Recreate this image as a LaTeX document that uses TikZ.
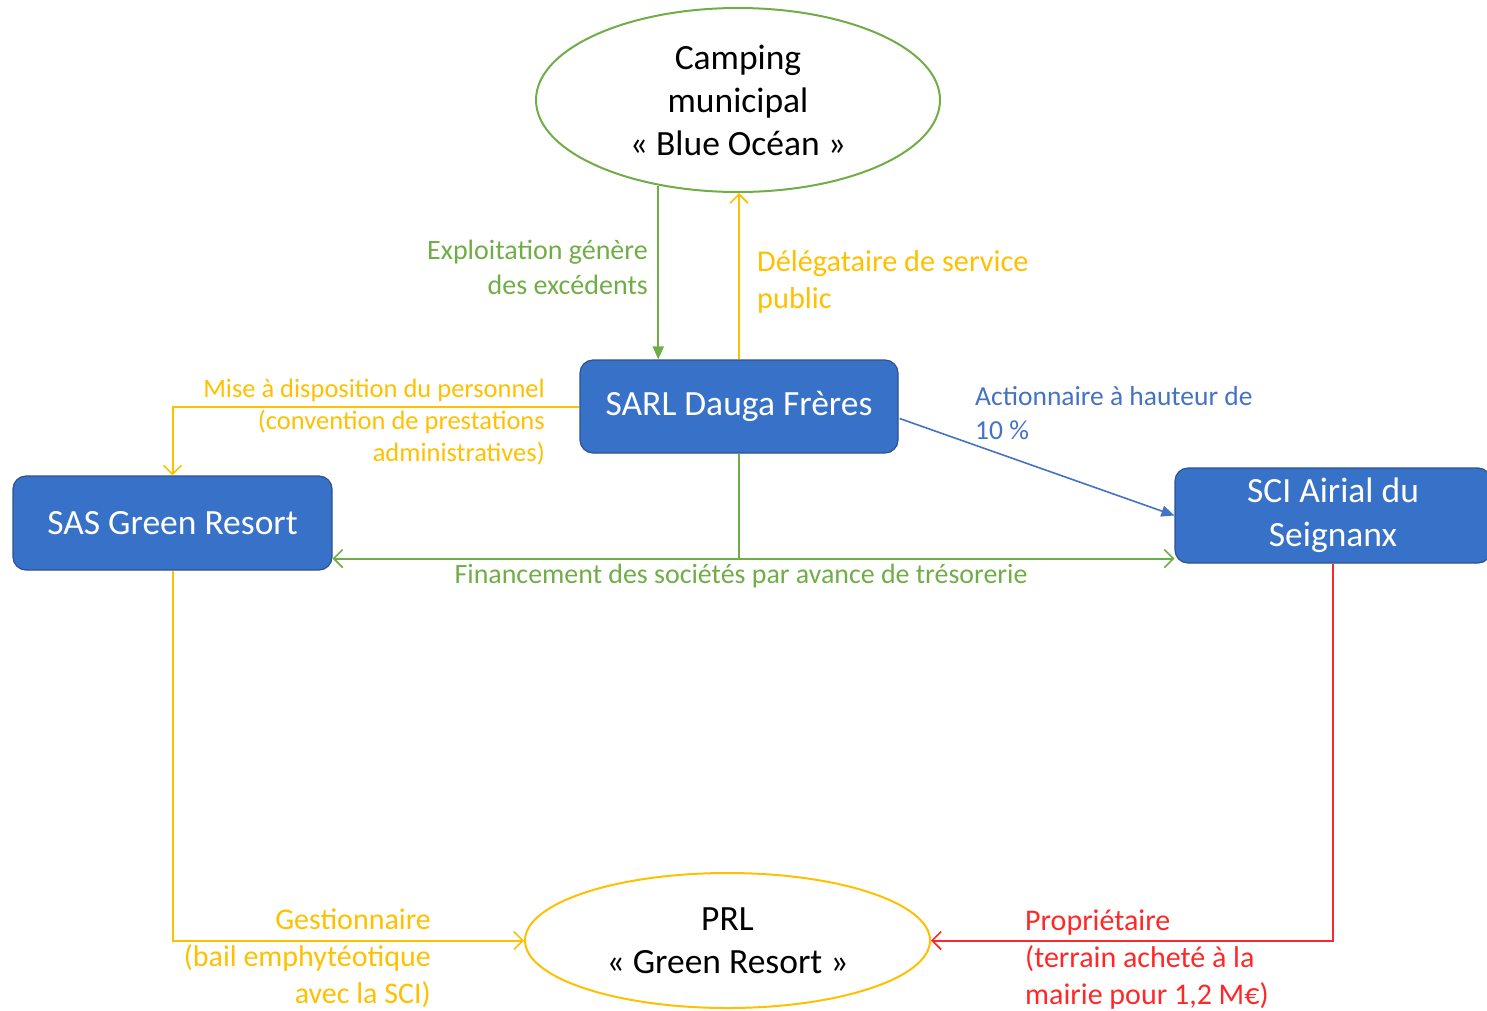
\documentclass[tikz,border=0pt]{standalone}
\usepackage{fontspec}
\setmainfont{Carlito}
\usetikzlibrary{arrows.meta,shapes.geometric,calc}
\definecolor{cgreen}{RGB}{112,173,71}
\definecolor{cgold}{RGB}{255,192,0}
\definecolor{cblue}{RGB}{68,114,196}
\definecolor{cbox}{RGB}{56,113,200}
\definecolor{cboxd}{RGB}{47,82,143}
\definecolor{cred}{RGB}{255,40,40}
\begin{document}
\begin{tikzpicture}[x=1pt,y=-1pt,
  box/.style={draw=cboxd, line width=1.2pt, fill=cbox, rounded corners=13pt, text=white,
    font=\fontsize{35.5}{44}\selectfont, align=center, inner sep=0pt},
  oval/.style={ellipse, line width=2pt, inner sep=0pt, align=center, text=black,
    font=\fontsize{35.5}{43}\selectfont},
  conn/.style={line width=2pt},
  open/.style={-{Straight Barb[length=9pt,width=18pt,line width=1.6pt]}},
  both/.style={{Straight Barb[length=9pt,width=18pt,line width=1.6pt]}-{Straight Barb[length=9pt,width=18pt,line width=1.6pt]}},
  filled/.style={-{Triangle[length=13pt,width=11pt]}},
  lbl/.style={inner sep=0pt, font=\fontsize{28}{35}\selectfont},
  lblbig/.style={inner sep=0pt, font=\fontsize{30}{37}\selectfont},
]
\useasboundingbox (0,0) rectangle (1487,1010);

\node[oval, draw=cgreen, minimum width=404pt, minimum height=184pt] (camp) at (738,100)
  {Camping\\municipal\\« Blue Océan »};
\node[box, minimum width=318pt, minimum height=93pt] (sarl) at (739,406.5) {SARL Dauga Frères};
\node[box, minimum width=319pt, minimum height=94pt] (sas) at (172.5,523) {SAS Green Resort};
\node[box, minimum width=316pt, minimum height=95pt] (sci) at (1333,515.5) {SCI Airial du\\Seignanx};
\node[oval, draw=cgold, minimum width=405pt, minimum height=135pt] (prl) at (727.5,940.5)
  {PRL\\« Green Resort »};

% camping -> SARL (green)
\draw[conn, cgreen, filled] (camp.-133.43) -- (camp.-133.43 |- sarl.north);
% SARL -> camping (gold)
\draw[conn, cgold, open] (sarl.north) -- (sarl.north |- camp.south);
% SARL -> SAS (gold)
\draw[conn, cgold, open] (sarl.west) -| (sas.north);
% SARL -> SCI (blue)
\draw[conn, cblue, filled, line width=1.6pt] ($(sarl.east)+(1,12)$) -- (sci.west);
% financing
\coordinate (fj) at ($(sarl.south)+(0,105)$);
\draw[conn, cgreen] (sarl.south) -- (fj);
\draw[conn, cgreen, both] (fj -| sas.east) -- (fj -| sci.west);
% SAS -> PRL
\draw[conn, cgold, open] (sas.south) |- (prl.west);
% SCI -> PRL
\draw[conn, cred, open] (sci.south) |- (prl.east);

% labels
\node[lbl, text=cgreen, anchor=east, align=right] (l1) at (648,267.5)
  {Exploitation génère\\des excédents};
\node[lblbig, text=cgold, anchor=west, align=left, font=\fontsize{30.3}{37}\selectfont] (l2) at (757,281.5)
  {Délégataire de service\\public};
\node[lbl, text=cgold, anchor=east, align=right, font=\fontsize{26.5}{32}\selectfont] (l3) at (545,422)
  {Mise à disposition du personnel\\(convention de prestations\\administratives)};
\node[lbl, text=cblue, anchor=west, align=left, font=\fontsize{27.5}{34}\selectfont] (l4) at (975,413)
  {Actionnaire à hauteur de\\10 \%};
\node[lbl, text=cgreen, font=\fontsize{27.9}{34}\selectfont] (l5) at (741,576)
  {Financement des sociétés par avance de trésorerie};
\node[lblbig, text=cgold, anchor=east, align=right] (l6) at (431,958.5)
  {Gestionnaire\\(bail emphytéotique\\avec la SCI)};
\node[lblbig, text=cred, anchor=west, align=left] (l7) at (1025,960)
  {Propriétaire\\(terrain acheté à la\\mairie pour 1,2 M€)};
\end{tikzpicture}
\end{document}
